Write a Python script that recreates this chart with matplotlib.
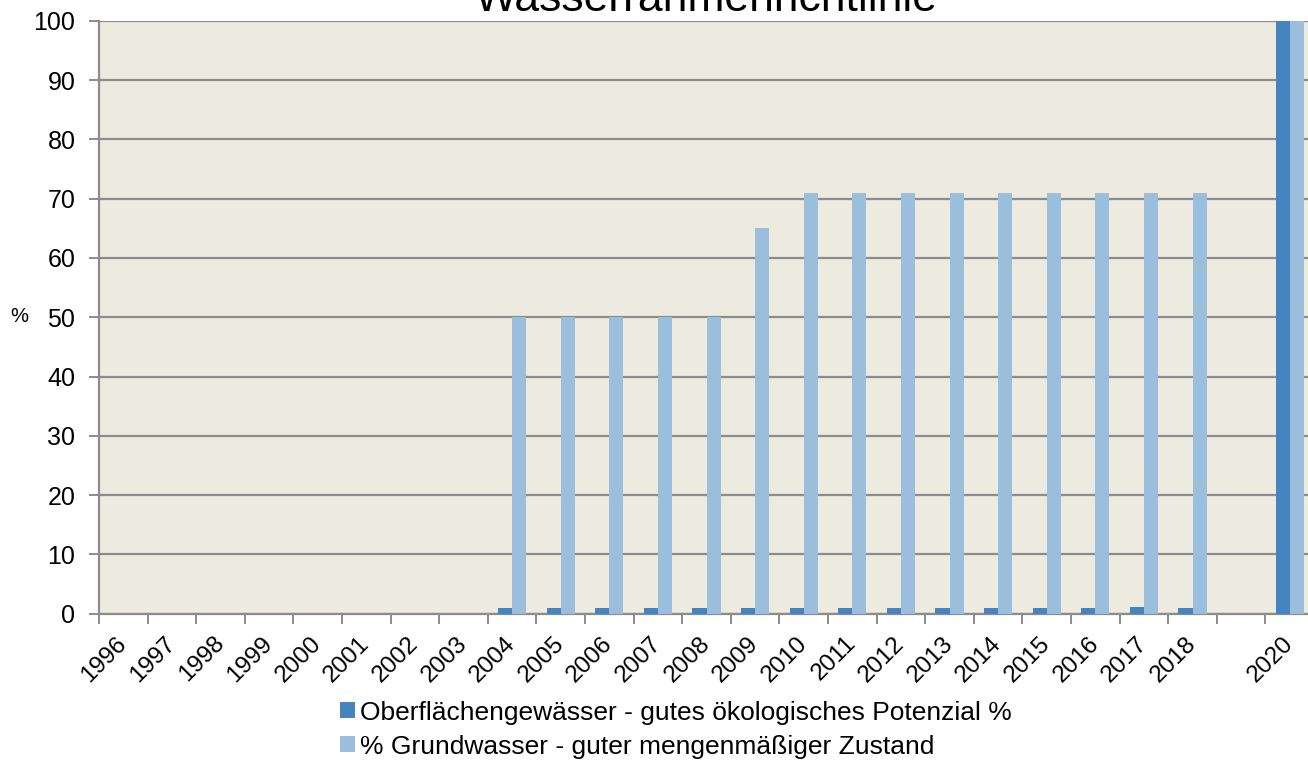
import numpy as np
import matplotlib
matplotlib.use("Agg")
import matplotlib.pyplot as plt
from matplotlib.ticker import FixedLocator

# Data
years = ["1996", "1997", "1998", "1999", "2000", "2001", "2002", "2003",
         "2004", "2005", "2006", "2007", "2008", "2009", "2010", "2011",
         "2012", "2013", "2014", "2015", "2016", "2017", "2018", "", "2020"]
nan = np.nan
surface = [nan, nan, nan, nan, nan, nan, nan, nan,
           1, 1, 1, 1, 1, 1, 1, 1, 1, 1, 1, 1, 1, 1.1, 1, nan, 100]
ground = [nan, nan, nan, nan, nan, nan, nan, nan,
          50, 50, 50, 50, 50, 65, 71, 71, 71, 71, 71, 71, 71, 71, 71, nan, 100]
surface_label = "Oberflächengewässer - gutes ökologisches Potenzial %"
ground_label = "% Grundwasser - guter mengenmäßiger Zustand"
title = "Wasserrahmenrichtlinie"

plt.rcParams["font.family"] = ["Liberation Sans", "DejaVu Sans"]

dark = "#4584BE"
light = "#9BBEDC"
grid_c = "#8C8C8C"

fig = plt.figure(figsize=(13.08, 7.62), dpi=100)
ax = fig.add_axes([0.0757, 0.1946, 0.9289, 0.7782])
ax.set_facecolor("#EDEAE0")

x = np.arange(len(years))
w = 0.29
ax.bar(x - w / 2, surface, width=w, color=dark, label=surface_label, zorder=3)
ax.bar(x + w / 2, ground, width=w, color=light, label=ground_label, zorder=3)

ax.set_xlim(-0.5, len(years) - 0.5)
ax.set_ylim(0, 100)
ax.set_yticks(np.arange(0, 101, 10))
ax.yaxis.grid(True, color=grid_c, linewidth=1.6, zorder=1)
ax.set_axisbelow(True)

for side in ("top", "right"):
    ax.spines[side].set_visible(False)
for side in ("left", "bottom"):
    ax.spines[side].set_color(grid_c)
    ax.spines[side].set_linewidth(1.6)

ax.set_xticks(x)
ax.set_xticklabels(years, rotation=45, ha="right", va="center",
                   rotation_mode="anchor", fontsize=17.5)
ax.tick_params(axis="x", which="major", length=0, pad=19)
ax.xaxis.set_minor_locator(FixedLocator(np.arange(-0.5, len(years), 1)))
ax.tick_params(axis="x", which="minor", length=7, width=1.4, color=grid_c)
ax.tick_params(axis="y", length=7, width=1.4, color=grid_c, labelsize=18, pad=10)

fig.text(0.008, 0.584, "%", fontsize=14.5, ha="left", va="center")
fig.text(0.0757 + 0.9289 / 2, 0.9856, title, fontsize=32,
         ha="center", va="baseline")

fig.legend(loc="upper center", bbox_to_anchor=(0.517, 0.098), ncol=1,
           frameon=False, fontsize=19, handlelength=0.55, handleheight=0.55,
           handletextpad=0.2, labelspacing=0.38, borderpad=0)

fig.savefig("out.png", dpi=100)
